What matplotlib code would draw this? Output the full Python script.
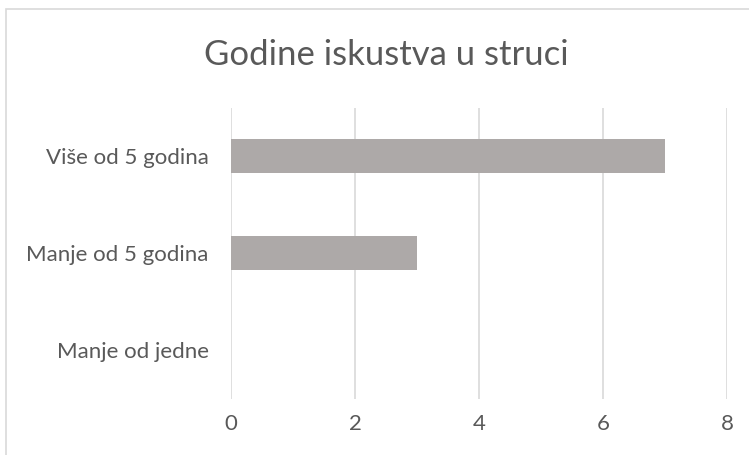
import matplotlib.pyplot as plt
from matplotlib.patches import Rectangle

categories = ['Manje od jedne', 'Manje od 5 godina', 'Više od 5 godina']
values = [0, 3, 7]
x_ticks = [0, 2, 4, 6, 8]

W, H = 749, 455
fig = plt.figure(figsize=(W / 100, H / 100), dpi=100)
plt.rcParams['font.family'] = ['Lato', 'DejaVu Sans']

# chart area border (light grey, like an Excel chart frame)
fig.patches.append(Rectangle((6 / W, -0.01), (W - 7) / W - 6 / W + 0.02, 1 - 9 / H + 0.01,
                             transform=fig.transFigure, fill=False,
                             edgecolor='#D9D9D9', linewidth=1.2))

ax = fig.add_axes([231 / W, 1 - 398.5 / H, (727 - 231) / W, (398.5 - 107.5) / H])
ax.barh(categories, values, height=0.35, color='#ADA9A8', zorder=3)

ax.set_xlim(0, 8)
ax.set_ylim(-0.5, 2.5)
ax.set_xticks(x_ticks)
ax.xaxis.grid(True, color='#D9D9D9', linewidth=1.2, zorder=0)
for s in ax.spines.values():
    s.set_visible(False)
ax.tick_params(axis='both', length=0, labelsize=16, labelcolor='#595959')
ax.tick_params(axis='x', pad=11)
ax.tick_params(axis='y', pad=16)

fig.text(386 / W, 1 - 55 / H, 'Godine iskustva u struci', ha='center', va='center',
         fontsize=25, color='#595959')

fig.savefig('out.png', dpi=100)
